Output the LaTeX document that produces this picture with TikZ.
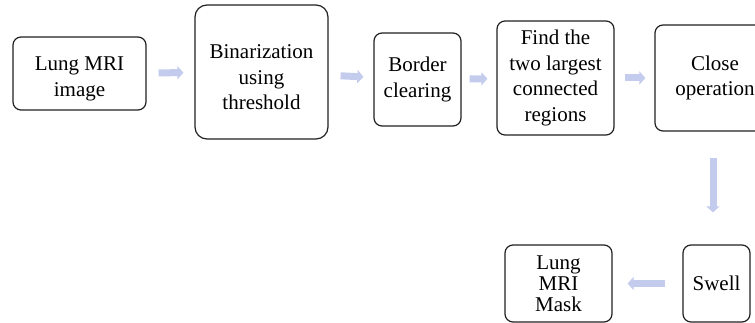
\documentclass[tikz,border=0pt]{standalone}
\usepackage{fontspec}
\setmainfont{Liberation Serif}
\usepackage{tikz}
\usetikzlibrary{arrows.meta,positioning}
\definecolor{flowblue}{HTML}{C4CCEE}
\definecolor{boxline}{HTML}{231F20}
\newcommand{\lowtext}{\rule{0pt}{24.5pt}}
\tikzset{
    stepbox/.style={draw=boxline,line width=1.2pt,rounded corners=8pt,inner sep=0pt,
        align=center,font=\fontsize{21}{25.5}\selectfont},
    flow/.style={draw=flowblue,line width=7pt,-{Triangle[length=6pt,width=13pt]}}
}

\begin{document}
\begin{tikzpicture}[x=1pt,y=-1pt]
    \useasboundingbox (0,0) rectangle (755,323);
    \clip (0,0) rectangle (755,323);
    \node[stepbox,minimum width=133pt,minimum height=73pt] (lung) at (79.5,73.5) {\lowtext Lung MRI\\image};
    \node[stepbox,rounded corners=12pt,minimum width=133pt,minimum height=134pt] (bin) at (261.5,72) {\lowtext Binarization\\using\\threshold};
    \node[stepbox,minimum width=87pt,minimum height=93pt] (border) at (417.5,79.5) {Border\\clearing};
    \node[stepbox,minimum width=117pt,minimum height=114pt] (find) at (555.5,78) {Find the\\two largest\\connected\\regions};
    \node[stepbox,minimum width=120pt,minimum height=106pt] (close) at (715,78) {Close\\operation};
    \node[stepbox,minimum width=67pt,minimum height=77pt] (swell) at (716.5,283.5) {Swell};
    \node[stepbox,minimum width=107pt,minimum height=77pt,font=\fontsize{21}{21}\selectfont] (mask) at (558.5,283.5) {Lung\\MRI\\Mask};

    \draw[flow,shorten <=12pt,shorten >=11pt] (lung) -- (bin);
    \draw[flow,shorten <=12pt,shorten >=10pt] (bin) -- (border);
    \draw[flow,shorten <=8pt,shorten >=9pt] (border) -- (find);
    \draw[flow,shorten <=10pt,shorten >=9pt] (find) -- (close);
    \draw[flow,shorten <=26pt,shorten >=32pt] (close.south -| 713,0) -- (swell.north -| 713,0);
    \draw[flow,shorten <=17pt,shorten >=15pt] (swell) -- (mask);
\end{tikzpicture}
\end{document}
